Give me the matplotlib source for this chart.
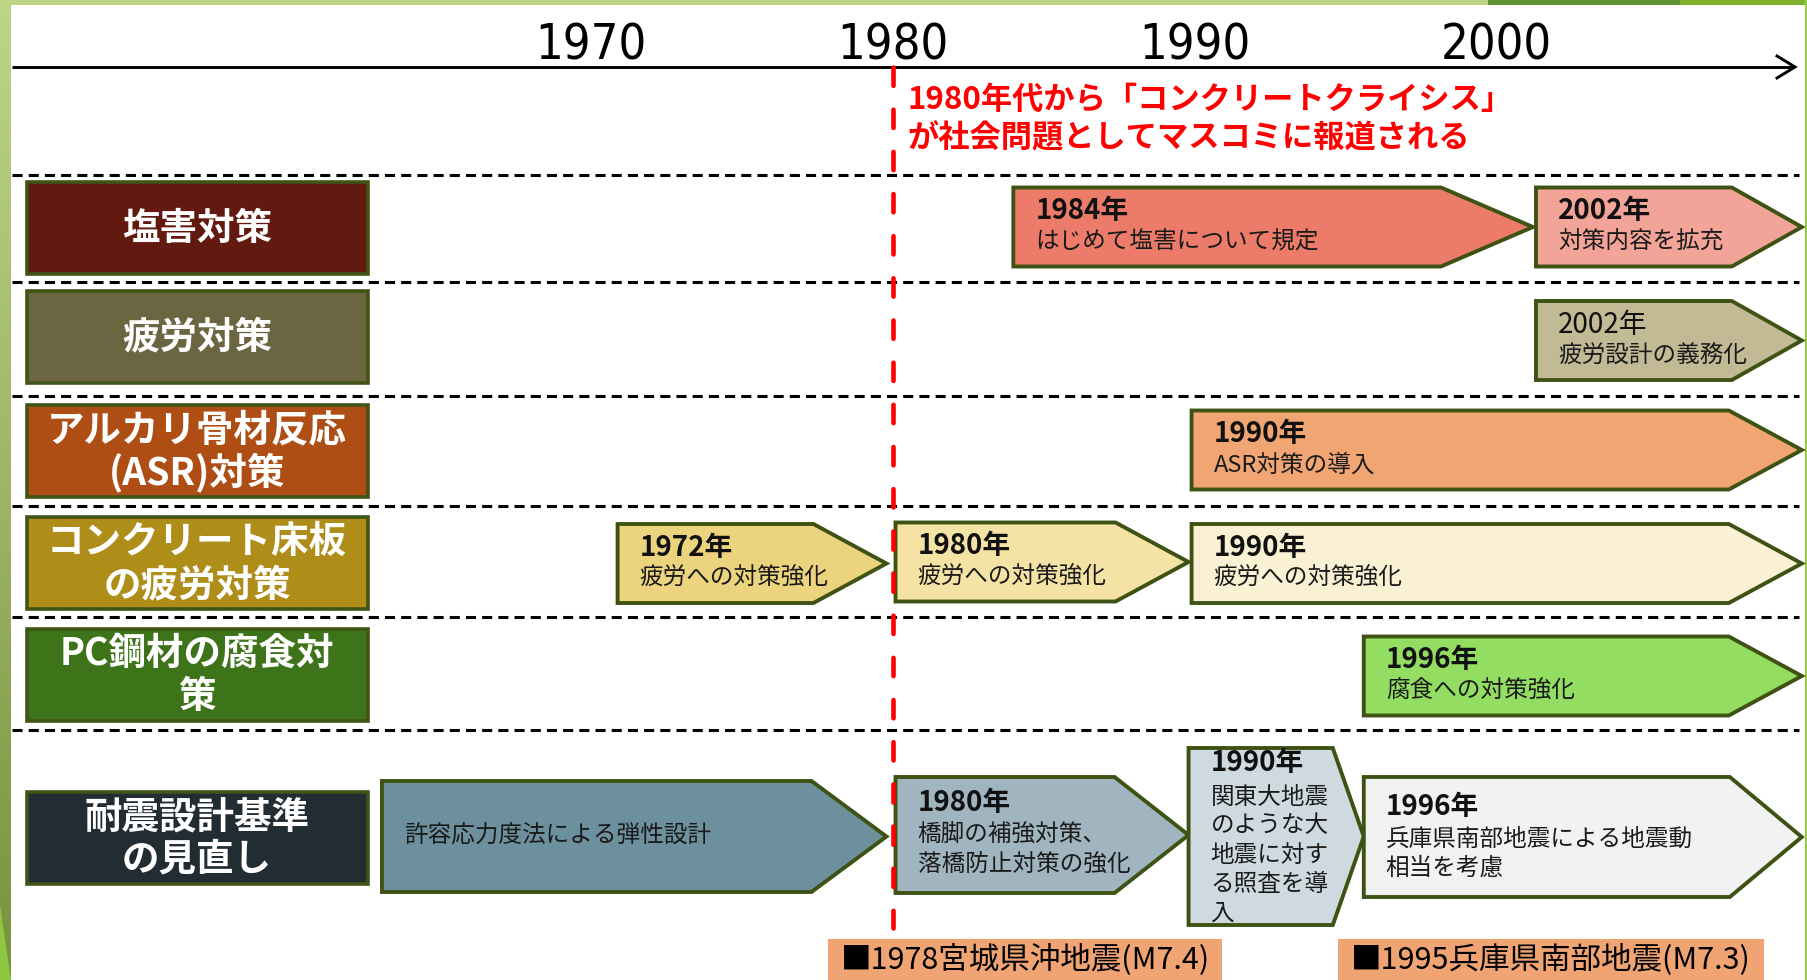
import matplotlib
matplotlib.use('Agg')
import matplotlib.pyplot as plt
from matplotlib.patches import Polygon, Rectangle
from matplotlib.colors import LinearSegmentedColormap
import numpy as np

plt.rcParams['font.family'] = ['Noto Sans CJK JP', 'DejaVu Sans']

# ---------------- data ----------------
tick_years = [1970, 1980, 1990, 2000]
marker_year = 1980
crisis_lines = ['1980年代から「コンクリートクライシス」', 'が社会問題としてマスコミに報道される']

categories = [['塩害対策'], ['疲労対策'], ['アルカリ骨材反応', '(ASR)対策'],
              ['コンクリート床板', 'の疲労対策'], ['PC鋼材の腐食対', '策'],
              ['耐震設計基準', 'の見直し']]
category_colors = ['#621A10', '#6C6542', '#AE4E15', '#AF8D19', '#3E7419', '#222C33']

arrow_rows = [0, 0, 1, 2, 3, 3, 3, 4, 5, 5, 5, 5]
arrow_start = [1984.0, 2001.3, 2001.3, 1989.9, 1970.9, 1980.1, 1989.9, 1995.6,
               1963.1, 1980.1, 1989.8, 1995.6]
arrow_end = [2001.2, 2010.1, 2010.1, 2010.1, 1979.8, 1989.8, 2010.1, 2010.1,
             1979.8, 1989.8, 1995.6, 2010.1]
arrow_years = ['1984年', '2002年', '2002年', '1990年', '1972年', '1980年', '1990年',
               '1996年', '', '1980年', '1990年', '1996年']
arrow_texts = [['はじめて塩害について規定'], ['対策内容を拡充'], ['疲労設計の義務化'],
               ['ASR対策の導入'], ['疲労への対策強化'], ['疲労への対策強化'],
               ['疲労への対策強化'], ['腐食への対策強化'], ['許容応力度法による弾性設計'],
               ['橋脚の補強対策、', '落橋防止対策の強化'],
               ['関東大地震', 'のような大', '地震に対す', 'る照査を導', '入'],
               ['兵庫県南部地震による地震動', '相当を考慮']]
arrow_colors = ['#EC7B69', '#F3A498', '#C2B995', '#F0A572', '#ECD37E', '#F5E3A6',
                '#FAF0D3', '#93DD62', '#6D909E', '#A0B5C0', '#CEDAE0', '#F2F2F2']

quake_years = [1978, 1995]
quake_labels = ['■1978宮城県沖地震(M7.4)', '■1995兵庫県南部地震(M7.3)']

# ---------------- layout / style ----------------
PPY = 30.21                       # pixels per year
X0 = 1970 - 590.4 / PPY
W, H = 1808, 980


def xp(p):
    return X0 + p / PPY


sep_y = [175, 282.5, 395.5, 505.5, 617, 730]
box_center = [228, 337, 451, 563, 675, 838]
box_h = 92
arrow_h = [79, 79, 79, 79, 79, 79, 79, 79, 111, 116, 177, 120]
arrow_c = [227, 227, 340.5, 450, 563.5, 562, 563.5, 676, 836.5, 835, 836.5, 837]
head_px = [92, 70, 70, 73, 73, 73, 73, 73, 75, 74, 31, 72]
year_bold = [True, True, False, True, True, True, True, True, True, True, True, True]
year_dy = [-16] * 8 + [0, -32, -73.5, -30]
text_dy = [15] * 8 + [0, 0, -39.5, 2]
line_gap = 29
edge = '#3E5213'

fig = plt.figure(figsize=(W / 100, H / 100), dpi=100)
ax = fig.add_axes([0, 0, 1, 1])
ax.axis('off')

# frame decoration
grad = np.linspace(0, 1, 256).reshape(-1, 1)
cm = LinearSegmentedColormap.from_list('g', ['#BDD686', '#9DB565', '#77913E'])
ax.imshow(grad, cmap=cm, extent=[xp(0), xp(11), H, 0], aspect='auto', zorder=1)
ax.add_patch(Polygon([[xp(0), 905], [xp(11), 980], [xp(0), 980]], closed=True,
                     facecolor='#8DC63F', edgecolor='none', zorder=1.1))
ax.add_patch(Rectangle((xp(0), 0), 1488 / PPY, 5, facecolor='#BDD686', edgecolor='none', zorder=1))
ax.add_patch(Rectangle((xp(1488), 0), 192 / PPY, 5, facecolor='#5F9133', edgecolor='none', zorder=1))
ax.add_patch(Rectangle((xp(1680), 0), 128 / PPY, 5, facecolor='#80B22E', edgecolor='none', zorder=1))
ax.plot([xp(1805.5), xp(1805.5)], [0, H], color='#97C94A', lw=2.2, zorder=1)

# time axis
ax.plot([xp(12), xp(1794)], [67, 67], color='black', lw=2.1, solid_capstyle='butt', zorder=3)
ax.plot([xp(1777), xp(1795), xp(1777)], [56, 67, 78], color='black', lw=2.1,
        solid_joinstyle='miter', zorder=3)
for yr in tick_years:
    ax.text(yr, 46, str(yr), ha='center', va='center', fontsize=35,
            family='DejaVu Sans', fontstretch='condensed', color='black', zorder=3)

# separators
for y in sep_y:
    ax.plot([xp(12), xp(1799)], [y, y], color='black', lw=2.2, ls=(0, (3.3, 2.0)), zorder=2)

# category boxes
for i, lines in enumerate(categories):
    c = box_center[i]
    ax.add_patch(Rectangle((xp(26.5), c - box_h / 2), 341 / PPY, box_h,
                           facecolor=category_colors[i], edgecolor='#3F5415', lw=2.6, zorder=4))
    n = len(lines)
    for k, ln in enumerate(lines):
        ax.text(xp(197), c + (k - (n - 1) / 2) * 43, ln, ha='center', va='center',
                fontsize=27, fontweight='bold', color='white', zorder=5)

# arrows
for i in range(len(arrow_start)):
    s, e = arrow_start[i], arrow_end[i]
    c, h = arrow_c[i], arrow_h[i]
    hl = head_px[i] / PPY
    pts = [[s, c - h / 2], [e - hl, c - h / 2], [e, c], [e - hl, c + h / 2], [s, c + h / 2]]
    ax.add_patch(Polygon(pts, closed=True, facecolor=arrow_colors[i], edgecolor=edge,
                         lw=2.8, joinstyle='miter', zorder=4))
    tx = s + 22 / PPY
    if arrow_years[i]:
        ax.text(tx, c + year_dy[i], arrow_years[i], ha='left', va='center', fontsize=20,
                fontweight='bold' if year_bold[i] else 'normal', color='#111111', zorder=5)
    lines = arrow_texts[i]
    n = len(lines)
    for k, ln in enumerate(lines):
        yy = c + text_dy[i] + k * line_gap if (n > 1 or arrow_years[i]) else c
        ax.text(tx, yy, ln, ha='left', va='center', fontsize=17, color='#1A1A1A', zorder=5)

# 1980 marker line and note
ax.plot([marker_year, marker_year], [67, 928], color='#FF0000', lw=3.3,
        ls=(0, (4.0, 5.2)), dash_capstyle='round', zorder=6)
for k, ln in enumerate(crisis_lines):
    ax.text(marker_year + 15 / PPY, 100 + k * 38, ln, ha='left', va='center', fontsize=22.5,
            fontweight='bold', color='#FF0000', zorder=6)

# earthquake labels
quake_w = [394, 426]
quake_dx = [-4, -8]
for i, yr in enumerate(quake_years):
    left = yr + quake_dx[i] / PPY
    ax.add_patch(Rectangle((left, 939), quake_w[i] / PPY, 41, facecolor='#F0A474',
                           edgecolor='none', zorder=4))
    ax.text(left + quake_w[i] / PPY / 2, 959, quake_labels[i], ha='center', va='center',
            fontsize=22, color='black', zorder=5)

ax.set_xlim(X0, X0 + W / PPY)
ax.set_ylim(H, 0)
fig.savefig('out.png', dpi=100, facecolor='white')
